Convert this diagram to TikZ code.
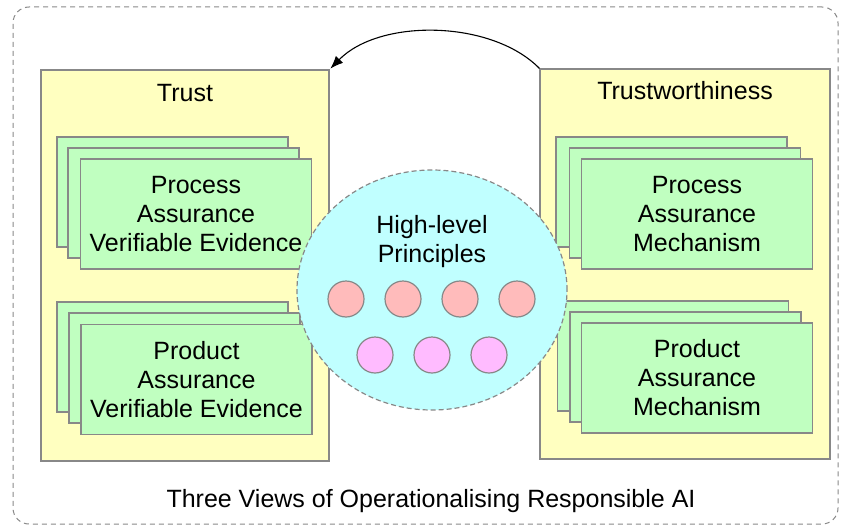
\documentclass[tikz,border=0pt]{standalone}
\usepackage{fontspec}
\setmainfont{Liberation Sans}
\usetikzlibrary{arrows.meta,shapes.geometric}
\definecolor{yel}{HTML}{FFFFC0}
\definecolor{grn}{HTML}{C0FFC0}
\definecolor{cyn}{HTML}{C0FFFF}
\definecolor{pnk}{HTML}{FFBBBB}
\definecolor{vio}{HTML}{FFBBFF}
\definecolor{bgray}{HTML}{888888}
\begin{document}
\begin{tikzpicture}[x=1pt,y=-1pt,
  txt/.style={font=\fontsize{25}{29}\selectfont, align=center, inner sep=0pt},
  frame/.style={draw=bgray, dashed, dash pattern=on 5pt off 4pt, line width=1pt, rounded corners=16pt, minimum width=825pt, minimum height=517pt, inner sep=0pt},
  panel/.style={draw=bgray, line width=1.2pt, fill=yel, inner sep=0pt},
  card/.style={draw=bgray, line width=1.2pt, fill=grn, minimum width=231pt, minimum height=110pt, inner sep=0pt, txt},
  hub/.style={ellipse, draw=bgray, dashed, dash pattern=on 5pt off 3pt, line width=1.2pt, fill=cyn, minimum width=270pt, minimum height=240pt, inner sep=0pt},
  dotp/.style={circle, draw=bgray, line width=1.2pt, fill=pnk, minimum size=36pt, inner sep=0pt},
  dotv/.style={circle, draw=bgray, line width=1.2pt, fill=vio, minimum size=36pt, inner sep=0pt}
]
\useasboundingbox (0,0) rectangle (842,527);
\node[frame] (outer) at (425.5,265.5) {};
% panels
\node[panel, minimum width=288pt, minimum height=391pt] (trust) at (185,265.5) {};
\node[panel, minimum width=290pt, minimum height=390pt] (tw) at (685,264) {};
\node[txt] (trustT) at (185,93) {Trust};
\node[txt] (twT) at (685,91) {Trustworthiness};
% left top stack
\node[card] (lt1) at (172.5,192) {};
\node[card] (lt2) at (183.5,203) {};
\node[card] (lt3) at (196,214) {Process\\Assurance\\Verifiable Evidence};
% left bottom stack
\node[card] (lb1) at (172.5,357) {};
\node[card] (lb2) at (184.5,368) {};
\node[card] (lb3) at (196.5,379.5) {Product\\Assurance\\Verifiable Evidence};
% right top stack
\node[card] (rt1) at (671.5,192) {};
\node[card] (rt2) at (685,203) {};
\node[card] (rt3) at (697,214) {Process\\Assurance\\Mechanism};
% right bottom stack
\node[card] (rb1) at (673,356) {};
\node[card] (rb2) at (685.5,367) {};
\node[card] (rb3) at (697,378) {Product\\Assurance\\Mechanism};
% hub
\node[hub] (hub) at (432,290) {};
\node[txt] (hubT) at (432,242) {High-level\\Principles};
\node[dotp] (p1) at (346,299) {};
\node[dotp] (p2) at (403,299) {};
\node[dotp] (p3) at (460,299) {};
\node[dotp] (p4) at (517,299) {};
\node[dotv] (v1) at (375,355) {};
\node[dotv] (v2) at (432,355) {};
\node[dotv] (v3) at (489,355) {};
% arrow
\draw[line width=1.1pt, -{Latex[length=13pt,width=10pt]}, shorten >=1pt] (tw.north west) .. controls (492,20) and (380,18) .. (trust.north east);
% caption
\node[txt] (cap) at (431,501) {Three Views of Operationalising Responsible AI};
\end{tikzpicture}
\end{document}
